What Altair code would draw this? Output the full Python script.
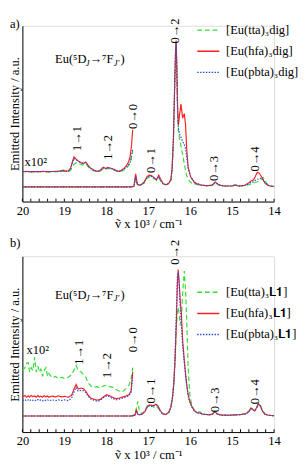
import altair as alt
import pandas as pd

FONT = "Liberation Serif"
W, H = 262, 183

NAMES_A = ["[Eu(tta)₃dig]", "[Eu(hfa)₃dig]", "[Eu(pbta)₃dig]"]
NAMES_B = ["[Eu(tta)₃𝐋𝟏]", "[Eu(hfa)₃𝐋𝟏]", "[Eu(pbta)₃𝐋𝟏]"]
COLORS = ["#33dd33", "#ff1f1f", "#2a4bd7"]
DASHES = [[5, 3], [1, 0], [1.5, 1.5]]

# ---------------- panel a : main spectra ----------------
A_X = [20.0, 17.4, 17.34, 17.30, 17.26, 17.2, 17.1, 17.03, 16.97, 16.91, 16.85, 16.8, 16.75, 16.7,
       16.64, 16.57, 16.51, 16.46, 16.43, 16.40, 16.37, 16.35, 16.335, 16.32, 16.30, 16.28, 16.25,
       16.22, 16.18, 16.14, 16.11, 16.085, 16.05, 15.99, 15.89, 15.75, 15.6, 15.48, 15.4, 15.32,
       15.2, 15.0, 14.93, 14.85, 14.7, 14.6, 14.55, 14.49, 14.45, 14.4, 14.36, 14.31, 14.26, 14.22,
       14.15, 14.08, 14.0]
A_HFA = [0, 0, 0.005, 0.09, 0.02, 0.01, 0.03, 0.07, 0.08, 0.075, 0.06, 0.05, 0.08, 0.05,
         0.02, 0.015, 0.025, 0.05, 0.13, 0.33, 0.70, 0.92, 1.0, 0.85, 0.55, 0.42, 0.50,
         0.565, 0.47, 0.50, 0.42, 0.27, 0.135, 0.07, 0.026, 0.013, 0.008, 0.012, 0.033, 0.015,
         0.006, 0.006, 0.014, 0.006, 0.01, 0.028, 0.04, 0.048, 0.07, 0.10, 0.095, 0.075, 0.048, 0.026,
         0.012, 0.005, 0.003]
A_PBTA = [0, 0, 0.005, 0.07, 0.02, 0.01, 0.03, 0.065, 0.075, 0.07, 0.06, 0.05, 0.07, 0.045,
          0.02, 0.015, 0.025, 0.05, 0.13, 0.32, 0.68, 0.90, 0.99, 0.82, 0.50, 0.40, 0.36,
          0.34, 0.31, 0.29, 0.26, 0.21, 0.13, 0.07, 0.03, 0.014, 0.008, 0.012, 0.03, 0.015,
          0.006, 0.006, 0.013, 0.006, 0.01, 0.022, 0.03, 0.035, 0.045, 0.052, 0.055, 0.06, 0.05, 0.03,
          0.012, 0.005, 0.003]
A_TTA = [0, 0, 0.005, 0.06, 0.015, 0.01, 0.025, 0.06, 0.065, 0.06, 0.055, 0.045, 0.06, 0.04,
         0.02, 0.015, 0.022, 0.045, 0.12, 0.30, 0.66, 0.90, 0.98, 0.80, 0.50, 0.38, 0.32,
         0.28, 0.22, 0.16, 0.11, 0.08, 0.05, 0.03, 0.018, 0.012, 0.008, 0.01, 0.028, 0.013,
         0.006, 0.006, 0.012, 0.006, 0.008, 0.015, 0.02, 0.026, 0.03, 0.035, 0.04, 0.05, 0.065, 0.045,
         0.015, 0.006, 0.003]

# ---------------- panel a : x10^2 expanded part (offset included) ----------------
AS_X = [20.0, 19.9, 19.8, 19.7, 19.6, 19.5, 19.4, 19.3, 19.2, 19.1, 19.03, 18.97, 18.9, 18.85,
        18.8, 18.77, 18.72, 18.66, 18.6, 18.55, 18.49, 18.44, 18.38, 18.3, 18.22, 18.15, 18.07,
        18.02, 17.97, 17.92, 17.87, 17.82, 17.76, 17.7, 17.64, 17.58, 17.52, 17.47, 17.43, 17.40, 17.37]
AS_HFA = [0.104, 0.106, 0.103, 0.105, 0.104, 0.106, 0.104, 0.105, 0.106, 0.108, 0.115, 0.107, 0.109,
          0.13, 0.18, 0.205, 0.19, 0.175, 0.165, 0.16, 0.17, 0.15, 0.13, 0.115, 0.106, 0.112, 0.135,
          0.125, 0.133, 0.13, 0.126, 0.12, 0.112, 0.106, 0.114, 0.126, 0.145, 0.17, 0.21, 0.28, 0.39]
AS_PBTA = [0.104, 0.105, 0.104, 0.104, 0.105, 0.105, 0.104, 0.105, 0.105, 0.107, 0.112, 0.107, 0.108,
           0.125, 0.17, 0.195, 0.185, 0.175, 0.165, 0.162, 0.165, 0.148, 0.128, 0.113, 0.105, 0.11, 0.13,
           0.124, 0.13, 0.128, 0.124, 0.118, 0.11, 0.105, 0.112, 0.12, 0.135, 0.15, 0.17, 0.21, 0.26]
AS_TTA = [0.104, 0.104, 0.103, 0.104, 0.104, 0.104, 0.103, 0.104, 0.104, 0.105, 0.108, 0.105, 0.106,
          0.115, 0.14, 0.155, 0.165, 0.16, 0.152, 0.15, 0.158, 0.14, 0.122, 0.11, 0.104, 0.108, 0.125,
          0.12, 0.125, 0.124, 0.12, 0.115, 0.108, 0.104, 0.108, 0.116, 0.128, 0.145, 0.165, 0.2, 0.245]

# ---------------- panel b : main spectra ----------------
B_X = [20.0, 17.4, 17.32, 17.28, 17.25, 17.21, 17.15, 17.08, 17.02, 16.97, 16.92, 16.87, 16.82,
       16.77, 16.72, 16.66, 16.58, 16.51, 16.46, 16.42, 16.39, 16.36, 16.33, 16.305, 16.285, 16.265,
       16.24, 16.21, 16.18, 16.14, 16.11, 16.08, 16.05, 16.01, 15.96, 15.9, 15.82, 15.77, 15.7,
       15.55, 15.47, 15.41, 15.35, 15.25, 15.1, 14.95, 14.8, 14.68, 14.6, 14.55, 14.5, 14.46, 14.41,
       14.37, 14.33, 14.28, 14.22, 14.15, 14.07, 14.0]
B_HFA = [0, 0, 0.005, 0.04, 0.012, 0.008, 0.012, 0.03, 0.065, 0.075, 0.07, 0.072, 0.08,
         0.07, 0.04, 0.015, 0.01, 0.025, 0.06, 0.13, 0.22, 0.38, 0.63, 0.9, 1.0, 0.93,
         0.8, 0.7, 0.52, 0.38, 0.29, 0.21, 0.15, 0.1, 0.065, 0.035, 0.02, 0.02, 0.012,
         0.008, 0.012, 0.03, 0.012, 0.006, 0.005, 0.007, 0.009, 0.015, 0.03, 0.055, 0.042, 0.035, 0.06,
         0.083, 0.07, 0.035, 0.013, 0.006, 0.003, 0.002]
B_PBTA = [0, 0, 0.005, 0.035, 0.012, 0.008, 0.012, 0.03, 0.06, 0.07, 0.065, 0.068, 0.075,
          0.065, 0.038, 0.015, 0.01, 0.025, 0.06, 0.13, 0.23, 0.42, 0.7, 0.95, 0.98, 0.9,
          0.76, 0.62, 0.48, 0.36, 0.28, 0.2, 0.14, 0.095, 0.06, 0.035, 0.02, 0.02, 0.012,
          0.008, 0.012, 0.028, 0.012, 0.006, 0.005, 0.007, 0.009, 0.014, 0.028, 0.05, 0.04, 0.033, 0.058,
          0.08, 0.068, 0.035, 0.013, 0.006, 0.003, 0.002]
B_TTA = [0, 0, 0.01, 0.06, 0.1, 0.03, 0.015, 0.035, 0.07, 0.08, 0.075, 0.06, 0.05,
         0.06, 0.035, 0.015, 0.01, 0.025, 0.06, 0.13, 0.22, 0.38, 0.6, 0.72, 0.74, 0.7,
         0.62, 0.66, 0.84, 0.99, 0.86, 0.63, 0.34, 0.15, 0.07, 0.04, 0.025, 0.03, 0.014,
         0.008, 0.014, 0.033, 0.013, 0.006, 0.005, 0.007, 0.01, 0.017, 0.032, 0.058, 0.045, 0.036, 0.065,
         0.09, 0.075, 0.04, 0.015, 0.007, 0.003, 0.002]

# ---------------- panel b : x10^2 expanded part (offset included) ----------------
BS_X = [20.0, 19.94, 19.90, 19.86, 19.83, 19.79, 19.75, 19.71, 19.67, 19.63, 19.60, 19.56, 19.52,
        19.48, 19.44, 19.40, 19.37, 19.29, 19.21, 19.14, 19.06, 18.99, 18.91, 18.83, 18.76, 18.72,
        18.67, 18.60, 18.54, 18.49, 18.44, 18.37, 18.30, 18.22, 18.15, 18.07, 17.99, 17.92, 17.84,
        17.77, 17.69, 17.61, 17.54, 17.46, 17.41, 17.37]
BS_TTA = [0.31, 0.33, 0.36, 0.365, 0.30, 0.33, 0.31, 0.40, 0.30, 0.34, 0.30, 0.32, 0.27, 0.31, 0.33,
          0.27, 0.29, 0.26, 0.27, 0.255, 0.265, 0.255, 0.265, 0.28, 0.32, 0.345, 0.31, 0.30, 0.28,
          0.265, 0.23, 0.205, 0.195, 0.20, 0.19, 0.205, 0.21, 0.20, 0.195, 0.18, 0.17, 0.165, 0.185,
          0.21, 0.25, 0.33]
BS_HFA = [0.13, 0.14, 0.128, 0.138, 0.13, 0.14, 0.132, 0.137, 0.128, 0.14, 0.13, 0.135, 0.128, 0.138,
          0.13, 0.136, 0.128, 0.136, 0.13, 0.137, 0.13, 0.134, 0.128, 0.14, 0.19, 0.215, 0.185, 0.19,
          0.185, 0.17, 0.145, 0.122, 0.115, 0.108, 0.112, 0.13, 0.145, 0.138, 0.125, 0.118, 0.122,
          0.13, 0.135, 0.145, 0.17, 0.30]
BS_PBTA = [0.105, 0.112, 0.104, 0.11, 0.103, 0.112, 0.106, 0.11, 0.104, 0.112, 0.105, 0.11, 0.104,
           0.111, 0.105, 0.11, 0.104, 0.11, 0.105, 0.11, 0.106, 0.11, 0.105, 0.12, 0.17, 0.195, 0.17,
           0.175, 0.172, 0.16, 0.138, 0.115, 0.108, 0.1, 0.105, 0.125, 0.138, 0.13, 0.118, 0.11, 0.115,
           0.122, 0.128, 0.138, 0.16, 0.28]

# ---------------- annotations ----------------
TRANS = ["1→1", "1→2", "0→0", "0→1", "0→2", "0→3", "0→4"]
TRANS_XA = [18.69, 17.95, 17.36, 16.92, 16.37, 15.43, 14.45]
TRANS_YA = [0.33, 0.27, 0.48, 0.18, 1.065, 0.125, 0.19]
TRANS_XB = [18.64, 17.97, 17.36, 16.92, 16.37, 15.41, 14.45]
TRANS_YB = [0.435, 0.345, 0.52, 0.17, 1.118, 0.11, 0.165]

X_TICKS = [14.0, 14.2, 14.4, 14.6, 14.8, 15.0, 15.2, 15.4, 15.6, 15.8, 16.0, 16.2, 16.4, 16.6, 16.8,
           17.0, 17.2, 17.4, 17.6, 17.8, 18.0, 18.2, 18.4, 18.6, 18.8, 19.0, 19.2, 19.4, 19.6, 19.8, 20.0]
X_LABELS = [14, 15, 16, 17, 18, 19, 20]

X_AXIS = alt.Axis(values=X_LABELS, format="d", ticks=False, grid=False,
                  domainColor="black", labelFont=FONT, labelFontSize=13,
                  labelColor="black", labelPadding=3, labelFlush=False,
                  title="ṽ x 10³ / cm⁻¹", titleFont=FONT, titleFontSize=13,
                  titleFontWeight="normal", titleColor="black", titlePadding=1)
Y_AXIS = alt.Axis(labels=False, ticks=False, grid=False, domainColor="black",
                  title="Emitted Intensity / a.u.", titleFont=FONT, titleFontSize=13,
                  titleFontWeight="normal", titleColor="black", titlePadding=1)


def lines_df(names, mx, mains, sx, scaled):
    rows = []
    for name, mv, sv in zip(names, mains, scaled):
        assert len(mx) == len(mv) and len(sx) == len(sv)
        for x, y in zip(mx, mv):
            rows.append({"series": name, "seg": "main", "nu": x, "I": y})
        for x, y in zip(sx, sv):
            rows.append({"series": name, "seg": "x100", "nu": x, "I": y})
    return pd.DataFrame(rows)


def txt(text, x, y, size=13, style="normal", align="left", baseline="alphabetic"):
    return alt.Chart(pd.DataFrame({"t": [text]})).mark_text(
        font=FONT, fontSize=size, fontStyle=style, align=align, baseline=baseline, color="black"
    ).encode(text="t:N", x=alt.value(x), y=alt.value(y))


def panel(letter, names, df, ydom, trans_x, trans_y, x100_pos, eu_y, leg_y, letter_y):
    xs = alt.Scale(domain=[14, 20], reverse=True, nice=False, zero=False)
    ys = alt.Scale(domain=ydom, nice=False, zero=False)
    leg = alt.Legend(title=None, orient="none", legendX=181, legendY=leg_y, symbolType="stroke",
                     symbolSize=529, symbolStrokeWidth=1.5, labelFont=FONT, labelFontSize=13,
                     labelColor="black", labelOffset=6, rowPadding=2, padding=0, labelLimit=0)
    X = lambda f: alt.X(f, scale=xs, axis=X_AXIS)
    Y = lambda f: alt.Y(f, scale=ys, axis=Y_AXIS)
    lines = alt.Chart(df).mark_line(strokeWidth=1.2).encode(
        x=X("nu:Q"), y=Y("I:Q"),
        color=alt.Color("series:N", scale=alt.Scale(domain=names, range=COLORS), legend=leg),
        strokeDash=alt.StrokeDash("series:N", scale=alt.Scale(domain=names, range=DASHES), legend=leg),
        detail="seg:N",
    )
    ticks = alt.Chart(pd.DataFrame({"nu": X_TICKS})).mark_rule(color="black", strokeWidth=1).encode(
        x=X("nu:Q"), y=alt.value(H), y2=alt.value(H - 3))
    tdf = pd.DataFrame({"label": TRANS, "nu": trans_x, "I": trans_y})
    tr = alt.Chart(tdf).mark_text(font=FONT, fontSize=13, angle=270, align="center",
                                  baseline="middle", color="black").encode(
        x=X("nu:Q"), y=Y("I:Q"), text="label:N")
    xdf = pd.DataFrame({"label": ["x10²"], "nu": [x100_pos[0]], "I": [x100_pos[1]]})
    x100 = alt.Chart(xdf).mark_text(font=FONT, fontSize=13, align="left", baseline="middle",
                                    color="black").encode(
        x=X("nu:Q"), y=Y("I:Q"), text="label:N")
    eu = [
        txt("Eu(⁵D", 34, eu_y),
        txt("J", 66, eu_y + 3, size=9, style="italic"),
        txt("→⁷F", 70, eu_y),
        txt("J′", 95, eu_y + 3, size=9, style="italic"),
        txt(")", 102, eu_y),
        txt(letter, -13, letter_y, baseline="middle"),
    ]
    return alt.layer(lines, ticks, tr, x100, *eu).properties(width=W, height=H).resolve_scale(
        color="independent", strokeDash="independent")


dfa = lines_df(NAMES_A, A_X, [A_TTA, A_HFA, A_PBTA], AS_X, [AS_TTA, AS_HFA, AS_PBTA])
dfb = lines_df(NAMES_B, B_X, [B_TTA, B_HFA, B_PBTA], BS_X, [BS_TTA, BS_HFA, BS_PBTA])

pa = panel("a)", NAMES_A, dfa, [-0.1, 1.1], TRANS_XA, TRANS_YA, (19.95, 0.17), 39, -8, -2)
pb = panel("b)", NAMES_B, dfb, [-0.11, 1.09], TRANS_XB, TRANS_YB, (19.90, 0.45), 44, 25, -14)

chart = alt.vconcat(pa, pb, spacing=57, bounds="flush").resolve_scale(
    color="independent", strokeDash="independent").resolve_legend(
    color="independent", strokeDash="independent").properties(padding=0).configure_view(
    stroke=None).configure(font=FONT)

chart.save("out.html", embed_options={"renderer": "svg", "actions": False})
